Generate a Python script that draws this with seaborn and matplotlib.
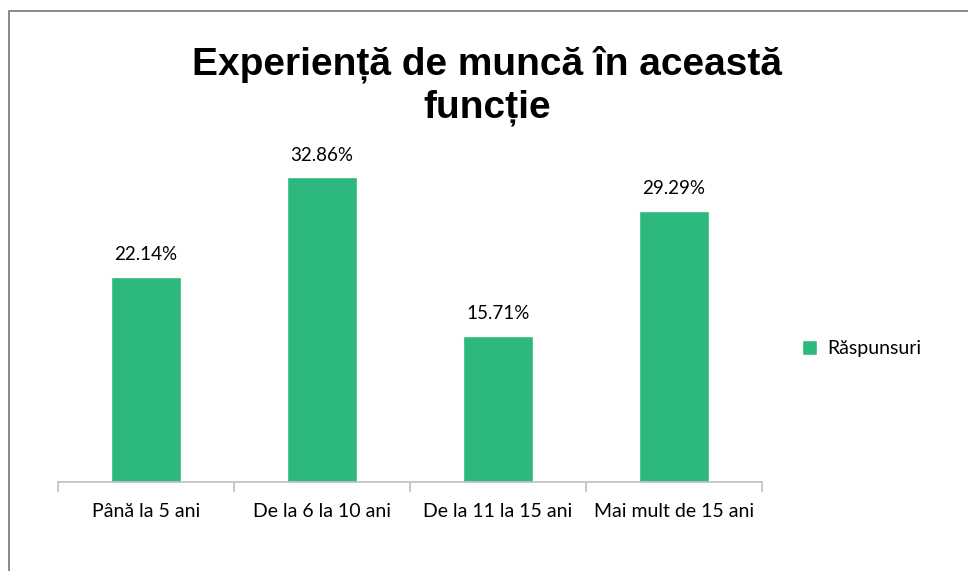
import matplotlib
matplotlib.use("Agg")
import matplotlib.pyplot as plt
import seaborn as sns
import pandas as pd
from matplotlib.patches import Rectangle, Patch

# data
categories = ["Până la 5 ani", "De la 6 la 10 ani", "De la 11 la 15 ani", "Mai mult de 15 ani"]
values = [22.14, 32.86, 15.71, 29.29]
series_name = "Răspunsuri"
title = "Experiență de muncă în această\nfuncție"

df = pd.DataFrame({"cat": categories, "val": values})
green = "#2DB87D"

sns.set_style("white")
plt.rcParams["font.family"] = ["Lato", "DejaVu Sans"]
plt.rcParams["text.color"] = "black"

fig = plt.figure(figsize=(9.68, 5.71), dpi=100)
ax = fig.add_axes([0.0599, 0.156, 0.727, 0.568])

sns.barplot(data=df, x="cat", y="val", color=green, width=0.4, saturation=1, ax=ax)

for i, v in enumerate(values):
    ax.text(i, v + 1.5, f"{v:.2f}%", ha="center", va="bottom", fontsize=13.5, color="black")

ax.set_ylim(0, 35)
ax.set_xlim(-0.5, 3.5)
ax.set_xlabel("")
ax.set_ylabel("")
ax.set_yticks([])
for s in ["top", "right", "left"]:
    ax.spines[s].set_visible(False)
ax.spines["bottom"].set_color("#BFBFBF")
ax.spines["bottom"].set_linewidth(1.2)

# category separators as minor ticks
ax.set_xticks([-0.5, 0.5, 1.5, 2.5, 3.5], minor=True)
ax.tick_params(axis="x", which="minor", length=7, color="#BFBFBF", width=1.2, bottom=True)
ax.tick_params(axis="x", which="major", length=0, pad=15, labelsize=14, labelcolor="black")

fig.text(0.503, 0.85, title, ha="center", va="center", fontsize=28, fontweight="bold",
         family=["Liberation Sans", "DejaVu Sans"], linespacing=1.25, color="black")

handle = [Patch(facecolor=green, label=series_name)]
fig.legend(handles=handle, loc="center left", bbox_to_anchor=(0.81, 0.39), frameon=False,
           fontsize=14, handlelength=0.8, handleheight=0.8, handletextpad=0.5)

fig.patches.append(Rectangle((8.5 / 968, -0.01), 1.05, 1 - 10.5 / 571 + 0.01,
                             transform=fig.transFigure, fill=False, edgecolor="#7F7F7F", linewidth=1.3))

fig.savefig("out.png", dpi=100)
